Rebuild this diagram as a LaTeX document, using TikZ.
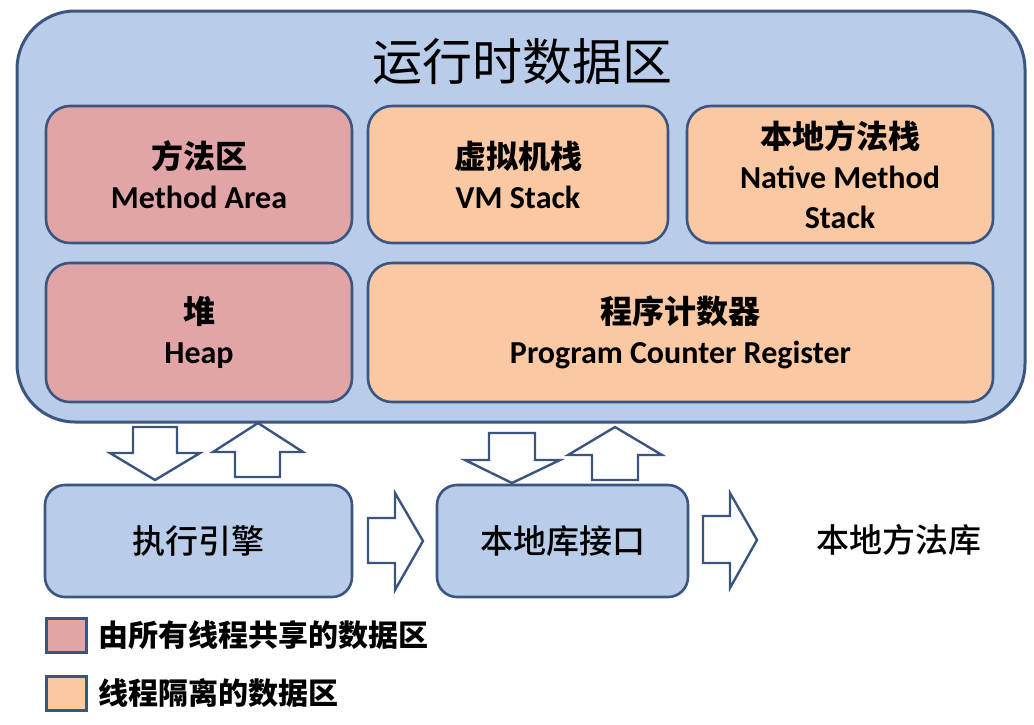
\documentclass[tikz,border=0pt]{standalone}
\usepackage{fontspec}
\newfontfamily\cjk{Noto Sans CJK SC}
\IfFontExistsTF{Noto Sans CJK SC Medium}
  {\newfontfamily\cjkmed{Noto Sans CJK SC Medium}}
  {\newfontfamily\cjkmed{Noto Sans CJK SC}}
\IfFontExistsTF{Carlito Bold}
  {\newfontfamily\latb{Carlito Bold}\def\latsize{32}}
  {\IfFontExistsTF{Carlito-Bold.ttf}
     {\newfontfamily\latb{Carlito-Bold.ttf}\def\latsize{32}}
     {\IfFontExistsTF{Lato Bold}
        {\newfontfamily\latb{Lato Bold}\def\latsize{29}}
        {\newfontfamily\latb{Carlito}\def\latsize{32}}}}
\definecolor{outerfill}{HTML}{B9CDEA}
\definecolor{edge}{HTML}{3A5680}
\definecolor{shared}{HTML}{E2A5A7}
\definecolor{private}{HTML}{FAC8A2}
\tikzset{
  region/.style={draw=edge, line width=2.6pt, rounded corners=24pt, inner sep=0pt, align=center,
     font=\fontsize{32}{40}\selectfont},
  sharedbox/.style={region, fill=shared},
  privatebox/.style={region, fill=private},
  engbox/.style={region, fill=outerfill, rounded corners=20pt, font=\cjkmed\fontsize{33}{40}\selectfont},
  blockarrow/.style={draw=edge, fill=white, line width=2.4pt, line join=miter},
  legendsq/.style={draw=edge, line width=3pt, minimum width=40pt, minimum height=34pt, inner sep=0pt},
  legendtxt/.style={anchor=west, inner sep=0pt, font=\cjk\bfseries\fontsize{30}{36}\selectfont}
}
\newcommand{\zh}[1]{{\cjk\bfseries #1}}
\newcommand{\en}[1]{{\latb\fontsize{\latsize}{40}\selectfont #1}}
\begin{document}
\begin{tikzpicture}[x=1pt,y=-1pt]
\useasboundingbox (0,0) rectangle (1034,724);
\fill[white] (0,0) rectangle (1034,724);
% outer runtime data area
\node[draw=edge, fill=outerfill, line width=3pt, rounded corners=58pt,
      minimum width=1008pt, minimum height=411pt, inner sep=0pt] (rda) at (521,216.5) {};
\node[font=\cjk\fontsize{50}{56}\selectfont, inner sep=0pt] (title) at (522,62) {运行时数据区};
% inner regions
\node[sharedbox, minimum width=306pt, minimum height=137pt] (ma) at (199,174.5)
  {\zh{方法区}\\\en{Method Area}};
\node[privatebox, minimum width=300pt, minimum height=137pt] (vm) at (518,174.5)
  {\zh{虚拟机栈}\\\en{VM Stack}};
\node[privatebox, minimum width=306pt, minimum height=137pt] (nms) at (840,174.5)
  {\zh{本地方法栈}\\\en{Native Method}\\\en{Stack}};
\node[sharedbox, minimum width=306pt, minimum height=139pt] (heap) at (199,332.5)
  {\zh{堆}\\\en{Heap}};
\node[privatebox, minimum width=625pt, minimum height=139pt] (pc) at (680.5,332.5)
  {\zh{程序计数器}\\\en{Program Counter Register}};
% lower boxes
\node[engbox, minimum width=307pt, minimum height=112pt] (exec) at (198.5,541) {执行引擎};
\node[engbox, minimum width=251pt, minimum height=112pt] (nli) at (562.5,541) {本地库接口};
\node[font=\cjkmed\fontsize{33}{40}\selectfont, inner sep=0pt] (nml) at (899,540) {本地方法库};
% block arrows
\draw[blockarrow] (133,427) -- (177,427) -- (177,453) -- (200,453) -- (155,480) -- (110,453) -- (133,453) -- cycle;
\draw[blockarrow] (258,423) -- (303,452) -- (280,452) -- (280,477) -- (235,477) -- (235,452) -- (213,452) -- cycle;
\draw[blockarrow] (489,433) -- (535,433) -- (535,460) -- (560,460) -- (512,483) -- (465,460) -- (489,460) -- cycle;
\draw[blockarrow] (615,427) -- (662,455) -- (638,455) -- (638,480) -- (592,480) -- (592,455) -- (568,455) -- cycle;
\draw[blockarrow] (368,518) -- (395,518) -- (395,493) -- (423,541) -- (395,590) -- (395,563) -- (368,563) -- cycle;
\draw[blockarrow] (703,516) -- (730,516) -- (730,493) -- (757,540) -- (730,588) -- (730,563) -- (703,563) -- cycle;
% legend
\node[legendsq, fill=shared] (lg1) at (66.5,635) {};
\node[legendtxt] (lt1) at (98,635) {由所有线程共享的数据区};
\node[legendsq, fill=private] (lg2) at (66.5,693.5) {};
\node[legendtxt] (lt2) at (98,693.5) {线程隔离的数据区};
\end{tikzpicture}
\end{document}
